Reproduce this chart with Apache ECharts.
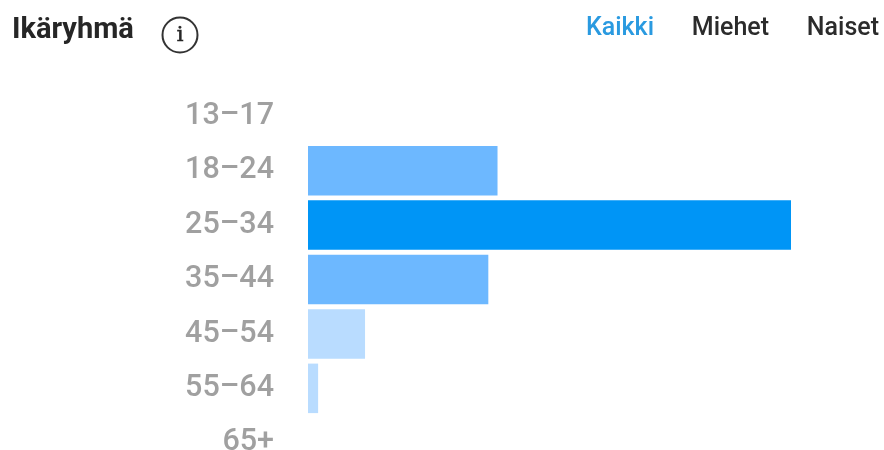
<!DOCTYPE html>
<html>
<head>
<meta charset="utf-8">
<style>html,body{margin:0;padding:0;background:#fff;overflow:hidden}#chart{width:884px;height:450px}</style>
<script src="https://cdn.jsdelivr.net/npm/echarts@6/dist/echarts.min.js"></script>
</head>
<body>
<div id="chart"></div>
<script>
// Age groups and their share of the audience, in percent
const categories = ['13–17', '18–24', '25–34', '35–44', '45–54', '55–64', '65+'];
const shares = [0, 20.6, 52.5, 19.6, 6.2, 1.1, 0];
const barColors = ['#b9dcff', '#6db8ff', '#0095f6', '#6db8ff', '#b9dcff', '#b9dcff', '#b9dcff'];
const tabs = ['Kaikki', 'Miehet', 'Naiset'];
const tabColors = ['#2a9ae0', '#2b2b2b', '#2b2b2b'];
const tabRight = [654, 769, 879];
const heading = 'Ikäryhmä';

const chart = echarts.init(document.getElementById('chart'), null, { renderer: 'canvas' });

const tabText = tabs.map((t, i) => ({
  type: 'text',
  style: {
    x: tabRight[i], y: 28.5, text: t, align: 'right', verticalAlign: 'middle',
    fill: tabColors[i], font: '500 25px Roboto'
  }
}));

chart.setOption({
  animation: false,
  backgroundColor: '#ffffff',
  // The last category band runs past the canvas edge, so the grid is not fitted to the viewport
  grid: { left: 308, top: 89, width: 552, height: 381, outerBoundsMode: 'none', containLabel: false },
  xAxis: { type: 'value', min: 0, max: 60, show: false },
  yAxis: {
    type: 'category',
    inverse: true,
    data: categories,
    axisLine: { show: false },
    axisTick: { show: false },
    splitLine: { show: false },
    axisLabel: {
      color: '#a0a0a0', fontFamily: 'Roboto', fontSize: 30.5, fontWeight: 500,
      margin: 34, padding: [0, 0, 8, 0]
    }
  },
  series: [{
    type: 'bar',
    barWidth: 49.5,
    data: shares.map((v, i) => ({ value: v, itemStyle: { color: barColors[i] } }))
  }],
  graphic: [
    {
      type: 'text',
      style: { x: 12, y: 31, text: heading, verticalAlign: 'middle', fill: '#262626', font: '700 29px Roboto' }
    },
    {
      type: 'circle',
      shape: { cx: 180, cy: 35, r: 17.5 },
      style: { fill: 'none', stroke: '#333333', lineWidth: 2 }
    },
    {
      type: 'text',
      style: {
        x: 180, y: 36, text: 'i', align: 'center', verticalAlign: 'middle',
        fill: '#262626', stroke: '#262626', lineWidth: 0.6, font: '400 21px "DejaVu Serif"'
      }
    },
    ...tabText
  ]
});
</script>
</body>
</html>
